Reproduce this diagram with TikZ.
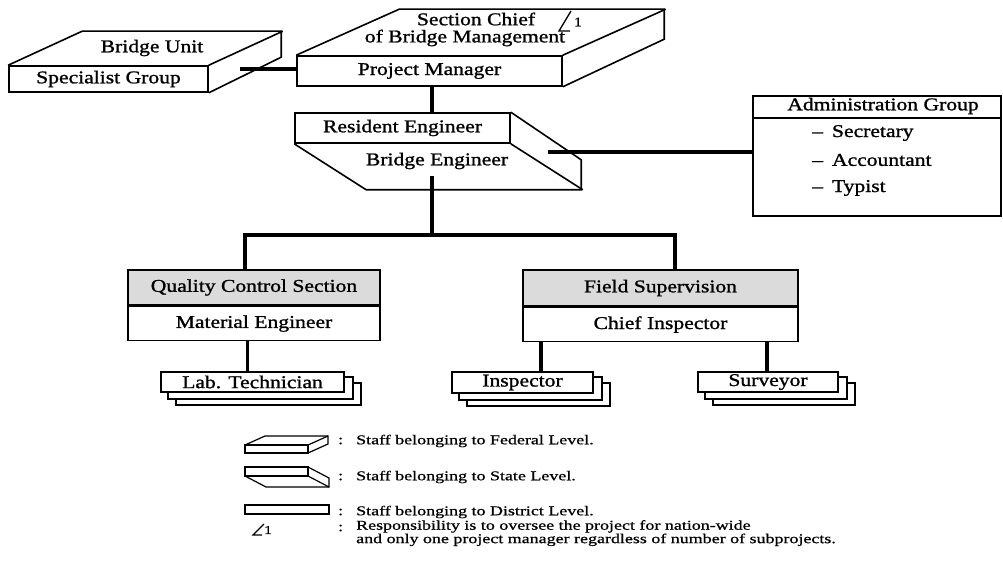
\documentclass[tikz,border=0pt]{standalone}
\usepackage{fontspec}
\setmainfont{Liberation Serif}[FakeStretch=1.2,FakeBold=1.2]
\newfontfamily\legendfont{Liberation Serif}[FakeStretch=1.33,FakeBold=0.8]
\usetikzlibrary{calc,backgrounds}

\begin{document}
\begin{tikzpicture}[x=1pt,y=-1pt,
  every node/.style={font=\fontsize{18}{20}\selectfont, inner sep=0pt},
  outline/.style={draw, line width=1.6pt, line join=miter},
  frontbox/.style={outline, fill=white},
  headbox/.style={outline, fill=black!14},
  conn/.style={line width=3.4pt},
  legendtext/.style={font=\legendfont\fontsize{13.5}{12}\selectfont, anchor=west, align=left},
  icon/.style={draw, line width=1.2pt, line join=miter},
  stackcopy/.style={outline, fill=white}
]
\useasboundingbox (0,0) rectangle (1003,561);

% ---- Federal level: Bridge Unit / Specialist Group
\node[frontbox, minimum width=199pt, minimum height=26pt] (spec) at (108.5,79) {Specialist Group};
\draw[outline] (spec.north west) -- ++(74,-34) -- ++(199,0) -- ++(0,26) -- (spec.south east);
\draw[outline] (spec.north east) -- ++(74,-34);
\node (bunit) at (152,48) {Bridge Unit};
\coordinate (specside) at (240,69);

% ---- Federal level: Section Chief / Project Manager
\node[frontbox, minimum width=265pt, minimum height=30pt] (pm) at (429.5,71) {Project Manager};
\draw[outline] (pm.north west) -- ++(103,-46) -- ++(265,0) -- ++(0,30) -- (pm.south east);
\draw[outline] (pm.north east) -- ++(103,-46);
\node (sc1) at (476,19) {Section Chief};
\node (sc2) at (465,38) {of Bridge Management};
\draw[line width=1.3pt] (571,11) -- (559,31) -- (570,31);
\node[font=\fontsize{13}{13}\selectfont] (note1) at (578,22) {1};

% ---- State level: Resident Engineer / Bridge Engineer
\node[frontbox, minimum width=215pt, minimum height=30pt] (res) at (402.5,128) {Resident Engineer};
\draw[outline] (res.south west) -- ++(72,46) -- ++(215,0) -- ++(0,-30) -- (res.north east);
\draw[outline] (res.south east) -- ++(72,46);
\node (beng) at (437,161) {Bridge Engineer};
\coordinate (resside) at (548,152);
\coordinate (resbottom) at (432,176);
\coordinate (bus) at (432,235);

% ---- Administration Group
\node[frontbox, anchor=north west, minimum width=248pt, minimum height=120pt] (adm) at (752,95) {};
\draw[outline] (adm.west |- 0,118) -- (adm.east |- 0,118);
\node (admh) at (883,106) {Administration Group};
\node[anchor=west] (adm1) at (812,133) {\textendash\hspace{9pt}Secretary};
\node[anchor=west] (adm2) at (812,160) {\textendash\hspace{9pt}Accountant};
\node[anchor=west] (adm3) at (812,188) {\textendash\hspace{9pt}Typist};

% ---- District level sections
\node[headbox, minimum width=252pt, minimum height=35pt] (qch) at (254,287.5) {Quality Control Section};
\node[frontbox, anchor=north, minimum width=252pt, minimum height=34pt] (qcb) at (qch.south) {Material Engineer};
\node[headbox, minimum width=275pt, minimum height=36pt] (fsh) at (660.5,288) {Field Supervision};
\node[frontbox, anchor=north, minimum width=275pt, minimum height=34pt] (fsb) at (fsh.south) {Chief Inspector};

% ---- Stacked district staff
\node[frontbox, minimum width=183pt, minimum height=20pt] (lab) at (252.5,382) {Lab. Technician};
\node[frontbox, minimum width=141pt, minimum height=21pt] (insp) at (522.5,382.5) {Inspector};
\node[frontbox, minimum width=140pt, minimum height=20pt] (surv) at (768,382) {Surveyor};
\begin{scope}[on background layer]
  \foreach \b in {lab,insp,surv}{
    \draw[stackcopy] ($(\b.north west)+(16,12)$) rectangle ($(\b.south east)+(16,12)$);
    \draw[stackcopy] ($(\b.north west)+(8,6)$) rectangle ($(\b.south east)+(8,6)$);
  }
\end{scope}

% ---- Connectors
\draw[conn] (specside) -- (specside -| pm.west);
\draw[conn] ([xshift=2.5pt]pm.south) -- ([xshift=2.5pt]pm.south |- res.north);
\draw[conn] (resside) -- (resside -| adm.west);
\draw[conn] (resbottom) -- (bus);
\draw[conn] ([xshift=-9pt]qch.north) |- (bus) -| ([xshift=14.5pt]fsh.north);
\draw[conn] ([xshift=-6.5pt]qcb.south) -- ([xshift=-6.5pt]qcb.south |- lab.north);
\draw[conn] (insp.north -| 541,0) -- (fsb.south -| 541,0);
\draw[conn] (surv.north -| 767,0) -- (fsb.south -| 767,0);

% ---- Legend
\draw[icon] (245,445) rectangle (308,453);
\draw[icon] (245,445) -- ++(20,-9) -- ++(63,0) -- ++(0,8) -- (308,453);
\draw[icon] (308,445) -- ++(20,-9);
\draw[icon] (245,467) rectangle (308,476);
\draw[icon] (245,476) -- ++(21,11) -- ++(63,0) -- ++(0,-9) -- (308,467);
\draw[icon] (308,476) -- ++(21,11);
\draw[icon] (245,505) rectangle (329,514);
\draw[line width=1.2pt] (264,524) -- (253,535) -- (262,535);
\node[font=\legendfont\fontsize{12}{12}\selectfont] (lg1) at (268,530) {1};

\node[legendtext] (c1) at (338,441) {:};
\node[legendtext] (c2) at (338,477) {:};
\node[legendtext] (c3) at (338,512) {:};
\node[legendtext] (c4) at (338,528) {:};
\node[legendtext] (t1) at (356,441) {Staff belonging to Federal Level.};
\node[legendtext] (t2) at (356,477) {Staff belonging to State Level.};
\node[legendtext] (t3) at (356,512) {Staff belonging to District Level.};
\node[legendtext, anchor=north west] (t4) at (356,520) {Responsibility is to oversee the project for nation-wide\\and only one project manager regardless of number of subprojects.};
\end{tikzpicture}
\end{document}
